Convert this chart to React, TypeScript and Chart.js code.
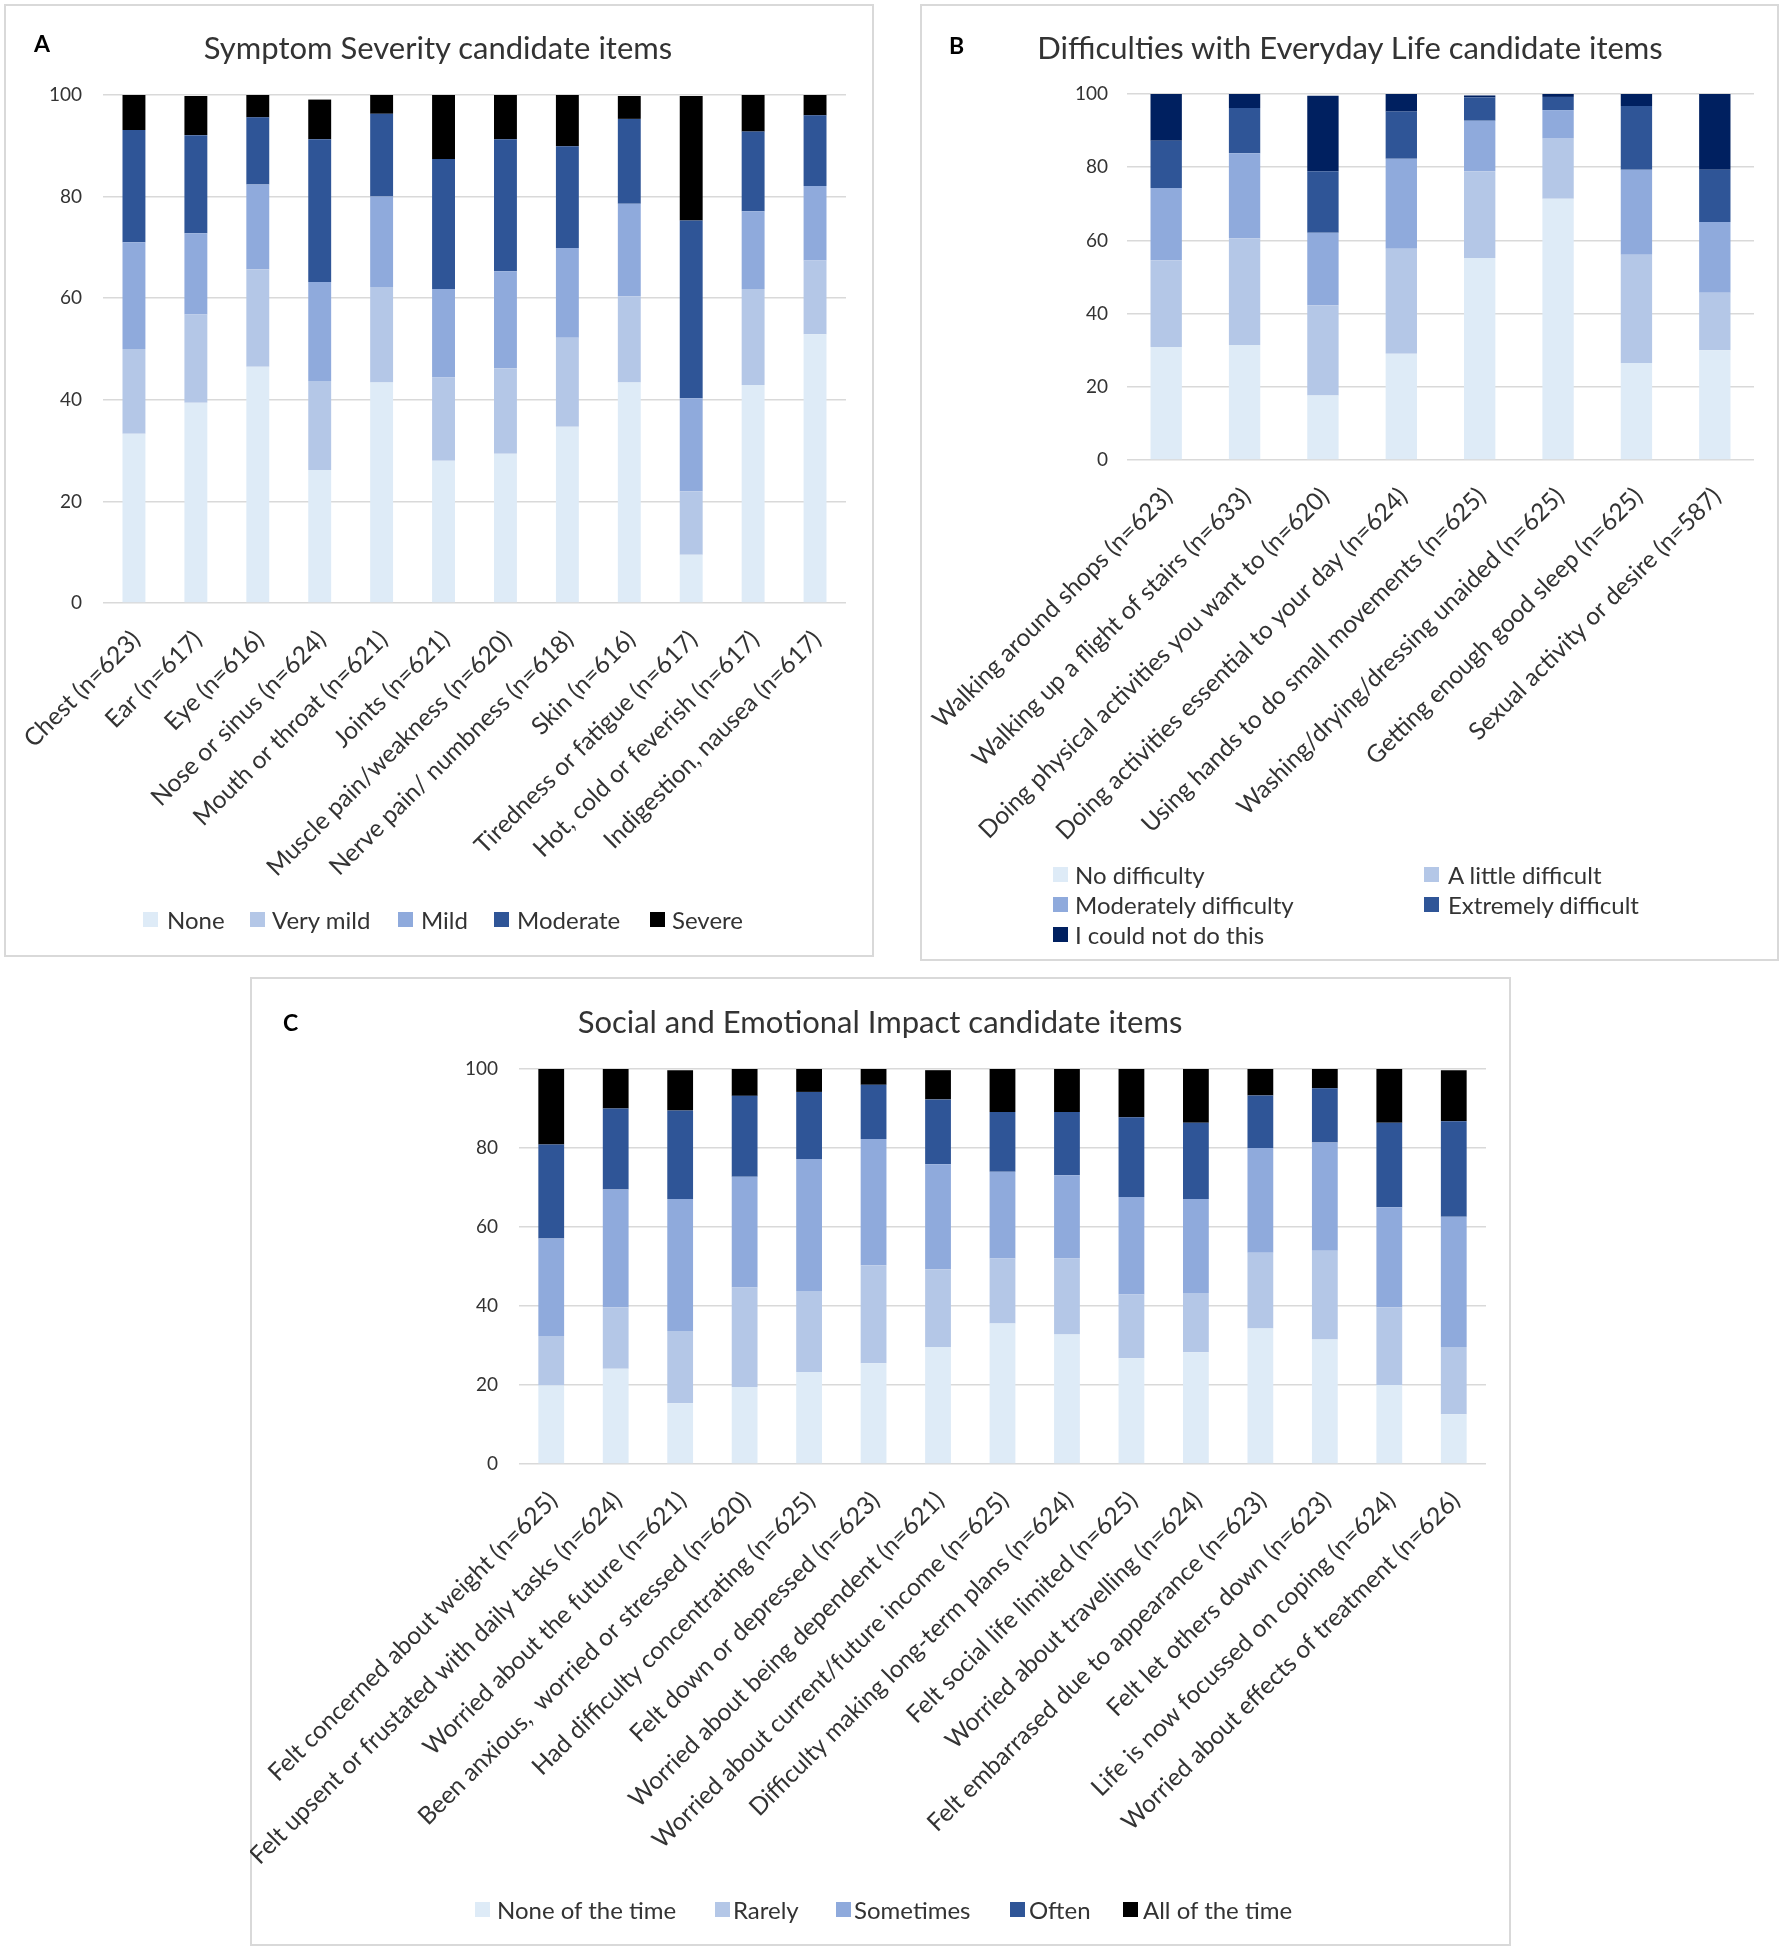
import React, { useEffect, useRef } from "react";
import { Chart, registerables } from "chart.js";
Chart.register(...registerables);

const FONT = "Lato, 'Open Sans', sans-serif";
const TEXT = "#333333";

// ---------- Panel A: Symptom Severity ----------
const symptomLabels = [
  "Chest (n=623)", "Ear (n=617)", "Eye (n=616)", "Nose or sinus (n=624)",
  "Mouth or throat (n=621)", "Joints (n=621)", "Muscle pain/weakness (n=620)",
  "Nerve pain/ numbness (n=618)", "Skin (n=616)", "Tiredness or fatigue (n=617)",
  "Hot, cold or feverish (n=617)", "Indigestion, nausea (n=617)",
];
const symptomSeries = ["None", "Very mild", "Mild", "Moderate", "Severe"];
const symptomNone = [33.3, 39.4, 46.5, 26.2, 43.4, 28.0, 29.4, 34.7, 43.4, 9.5, 42.9, 52.9];
const symptomVeryMild = [16.7, 17.4, 19.2, 17.5, 18.8, 16.4, 16.8, 17.5, 17.0, 12.5, 18.9, 14.5];
const symptomMild = [21.0, 16.0, 16.7, 19.5, 17.8, 17.4, 19.1, 17.7, 18.2, 18.3, 15.3, 14.7];
const symptomModerate = [22.1, 19.3, 13.2, 28.1, 16.3, 25.6, 26.0, 20.0, 16.7, 35.0, 15.7, 13.9];
const symptomSevere = [6.9, 7.7, 4.4, 7.8, 3.7, 12.6, 8.7, 10.1, 4.5, 24.5, 7.2, 4.0];

// ---------- Panel B: Difficulties with Everyday Life ----------
const dailyLabels = [
  "Walking around shops (n=623)", "Walking up a flight of stairs (n=633)",
  "Doing physical activities you want to (n=620)", "Doing activities essential to your day (n=624)",
  "Using hands to do small movements (n=625)", "Washing/drying/dressing unaided (n=625)",
  "Getting enough good sleep (n=625)", "Sexual activity or desire (n=587)",
];
const dailySeries = ["No difficulty", "A little difficult", "Moderately difficulty", "Extremely difficult", "I could not do this"];
const dailyNoDifficulty = [30.9, 31.4, 17.6, 29.0, 55.2, 71.4, 26.5, 30.0];
const dailyLittle = [23.7, 29.2, 24.7, 28.7, 23.7, 16.4, 29.6, 15.7];
const dailyModerately = [19.7, 23.2, 19.8, 24.6, 13.8, 7.8, 23.2, 19.3];
const dailyExtremely = [12.9, 12.4, 16.8, 12.9, 6.4, 3.6, 17.4, 14.3];
const dailyCouldNot = [12.8, 3.8, 20.6, 4.8, 0.5, 0.8, 3.3, 20.7];

// ---------- Panel C: Social and Emotional Impact ----------
const socialLabels = [
  "Felt concerned about weight (n=625)", "Felt upsent or frustated with daily tasks (n=624)",
  "Worried about the future (n=621)", "Been anxious,  worried or stressed (n=620)",
  "Had difficulty concentrating (n=625)", "Felt down or depressed (n=623)",
  "Worried about being dependent (n=621)", "Worried about current/future income (n=625)",
  "Difficulty making long-term plans (n=624)", "Felt social life limited (n=625)",
  "Worried about travelling (n=624)", "Felt embarrased due to appearance (n=623)",
  "Felt let others down (n=623)", "Life is now focussed on coping (n=624)",
  "Worried about effects of treatment (n=626)",
];
const socialSeries = ["None of the time", "Rarely", "Sometimes", "Often", "All of the time"];
const socialNone = [19.9, 24.1, 15.4, 19.5, 23.3, 25.5, 29.6, 35.6, 32.8, 26.8, 28.3, 34.3, 31.5, 20.0, 12.6];
const socialRarely = [12.5, 15.6, 18.3, 25.2, 20.5, 24.8, 19.7, 16.4, 19.2, 16.1, 15.0, 19.2, 22.5, 19.7, 17.0];
const socialSometimes = [24.7, 29.8, 33.4, 28.0, 33.4, 32.0, 26.6, 22.0, 21.1, 24.7, 23.8, 26.5, 27.4, 25.3, 33.0];
const socialOften = [23.8, 20.5, 22.4, 20.5, 17.0, 13.7, 16.4, 15.1, 16.0, 20.2, 19.3, 13.3, 13.7, 21.4, 24.2];
const socialAll = [19.1, 10.0, 10.2, 6.8, 5.8, 4.0, 7.4, 10.9, 10.9, 12.2, 13.6, 6.7, 4.9, 13.6, 12.9];

const yTicks = [0, 20, 40, 60, 80, 100];

const COLORS_AC = ["#DEEBF7", "#B4C7E7", "#8FAADC", "#2F5597", "#000000"];
const COLORS_B = ["#DEEBF7", "#B4C7E7", "#8FAADC", "#2F5597", "#002060"];

type PanelProps = {
  left: number; top: number; width: number; height: number;
  labels: string[]; series: string[]; values: number[][]; colors: string[];
  padLeft: number; padRight: number; padTop: number; yW: number; yPad: number; xH: number; xPad: number;
  barPct: number;
};

function StackedChart(p: PanelProps) {
  const ref = useRef<HTMLCanvasElement | null>(null);
  useEffect(() => {
    if (!ref.current) return;
    const chart = new Chart(ref.current, {
      type: "bar",
      data: {
        labels: p.labels,
        datasets: p.series.map((s, i) => ({
          label: s,
          data: p.values[i],
          backgroundColor: p.colors[i],
          borderWidth: 0,
          barPercentage: p.barPct,
          categoryPercentage: 1,
        })),
      },
      options: {
        animation: false,
        responsive: false,
        maintainAspectRatio: false,
        devicePixelRatio: 1,
        layout: { padding: { left: p.padLeft, right: p.padRight, top: p.padTop, bottom: 0 } },
        plugins: { legend: { display: false }, tooltip: { enabled: false }, title: { display: false } },
        scales: {
          x: {
            stacked: true,
            grid: { display: false, drawTicks: false },
            border: { display: false },
            ticks: {
              autoSkip: false, maxRotation: 45, minRotation: 45, padding: p.xPad, labelOffset: 2,
              font: { family: FONT, size: 24.5 }, color: TEXT,
            },
            afterFit: (s: any) => { s.height = p.xH; s.paddingLeft = 0; s.paddingRight = 0; },
          },
          y: {
            stacked: true, min: 0, max: 100,
            afterBuildTicks: (s: any) => { s.ticks = yTicks.map((v) => ({ value: v })); },
            ticks: { padding: p.yPad, font: { family: FONT, size: 19 }, color: TEXT },
            grid: { color: "#d9d9d9", lineWidth: 1.5, drawTicks: false },
            border: { display: false },
            afterFit: (s: any) => { s.width = p.yW; s.paddingTop = 0; s.paddingBottom = 0; },
          },
        },
      },
    });
    return () => chart.destroy();
  }, []);
  return (
    <canvas
      ref={ref}
      width={p.width}
      height={p.height}
      style={{ position: "absolute", left: p.left, top: p.top, width: p.width, height: p.height }}
    />
  );
}

function Box(props: { left: number; top: number; width: number; height: number }) {
  return (
    <div style={{
      position: "absolute", left: props.left, top: props.top, width: props.width, height: props.height,
      border: "2px solid #d9d9d9", boxSizing: "border-box",
    }} />
  );
}

function Title(props: { cx: number; cy: number; text: string }) {
  return (
    <div style={{
      position: "absolute", left: props.cx - 450, width: 900, top: props.cy - 19, height: 38,
      lineHeight: "38px", textAlign: "center", fontSize: 31, fontFamily: FONT, color: TEXT, whiteSpace: "pre",
    }}>{props.text}</div>
  );
}

function Letter(props: { x: number; cy: number; text: string }) {
  return (
    <div style={{
      position: "absolute", left: props.x, top: props.cy - 14, height: 28, lineHeight: "28px",
      fontSize: 23, fontWeight: 700, fontFamily: FONT, color: "#000",
    }}>{props.text}</div>
  );
}

function LegendItem(props: { bx: number; tx: number; cy: number; color: string; text: string }) {
  return (
    <>
      <div style={{ position: "absolute", left: props.bx, top: props.cy - 8, width: 15, height: 15, background: props.color }} />
      <div style={{
        position: "absolute", left: props.tx, top: props.cy - 15, height: 30, lineHeight: "30px",
        fontSize: 24, fontFamily: FONT, color: TEXT, whiteSpace: "pre",
      }}>{props.text}</div>
    </>
  );
}

export default function App() {
  const legendA = [[143, 167], [250, 272], [398, 421], [494, 517], [650, 672]];
  const legendB = [[1053, 1075, 875], [1424, 1448, 875], [1053, 1075, 905], [1424, 1448, 905], [1053, 1075, 935]];
  const legendC = [[475, 497], [715, 733], [836, 854], [1010, 1029], [1123, 1143]];
  return (
    <div style={{ position: "absolute", left: 0, top: 0, width: 1783, height: 1950, background: "#fff", fontFamily: FONT }}>
      <Box left={4} top={4} width={870} height={953} />
      <Box left={920} top={4} width={859} height={957} />
      <Box left={250} top={977} width={1261} height={969} />

      <StackedChart
        left={4} top={4} width={870} height={953}
        labels={symptomLabels} series={symptomSeries}
        values={[symptomNone, symptomVeryMild, symptomMild, symptomModerate, symptomSevere]}
        colors={COLORS_AC}
        padLeft={39} padRight={28} padTop={91} yW={60} yPad={21} xH={354} xPad={22} barPct={0.37}
      />
      <StackedChart
        left={920} top={4} width={859} height={957}
        labels={dailyLabels} series={dailySeries}
        values={[dailyNoDifficulty, dailyLittle, dailyModerately, dailyExtremely, dailyCouldNot]}
        colors={COLORS_B}
        padLeft={127} padRight={25} padTop={90} yW={80} yPad={19} xH={501} xPad={22} barPct={0.4}
      />
      <StackedChart
        left={250} top={977} width={1261} height={969}
        labels={socialLabels} series={socialSeries}
        values={[socialNone, socialRarely, socialSometimes, socialOften, socialAll]}
        colors={COLORS_AC}
        padLeft={189} padRight={25} padTop={92} yW={80} yPad={21} xH={482} xPad={22} barPct={0.4}
      />

      <Letter x={34} cy={43} text="A" />
      <Letter x={949} cy={45} text="B" />
      <Letter x={283} cy={1022} text="C" />

      <Title cx={438} cy={47} text="Symptom Severity candidate items" />
      <Title cx={1350} cy={47} text="Difficulties with Everyday Life candidate items" />
      <Title cx={880} cy={1021} text="Social and Emotional Impact candidate items" />

      {symptomSeries.map((s, i) => (
        <LegendItem key={s} bx={legendA[i][0]} tx={legendA[i][1]} cy={920} color={COLORS_AC[i]} text={s} />
      ))}
      {dailySeries.map((s, i) => (
        <LegendItem key={s} bx={legendB[i][0]} tx={legendB[i][1]} cy={legendB[i][2]} color={COLORS_B[i]} text={s} />
      ))}
      {socialSeries.map((s, i) => (
        <LegendItem key={s} bx={legendC[i][0]} tx={legendC[i][1]} cy={1910} color={COLORS_AC[i]} text={s} />
      ))}
    </div>
  );
}
